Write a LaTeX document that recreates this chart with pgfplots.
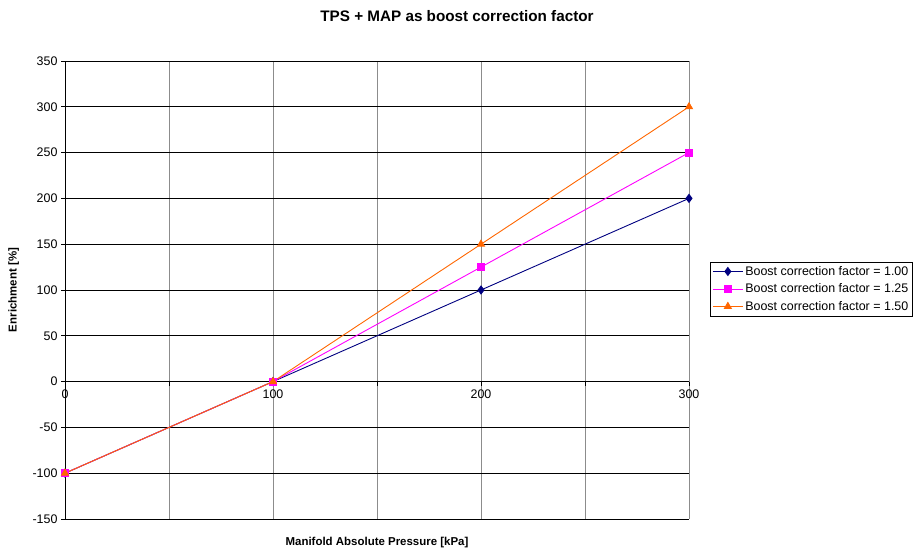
\documentclass[border=0pt]{standalone}
\usepackage{pgfplots}
\pgfplotsset{compat=1.18}
\usepackage{fontspec}
\setmainfont{Liberation Sans}
\definecolor{navyline}{RGB}{0,0,128}
\definecolor{magline}{RGB}{255,0,255}
\definecolor{orgline}{RGB}{255,102,0}
\begin{document}
\begin{tikzpicture}[x=1bp,y=1bp]
	\path[use as bounding box] (0,0) rectangle (914,548);
	\node[font=\bfseries\fontsize{15.3}{17}\selectfont] at (457,532) {TPS + MAP as boost correction factor};
	\begin{axis}[
		at={(65bp,29bp)}, anchor=south west,
		scale only axis,
		width=624bp, height=458bp,
		xmin=0, xmax=300,
		ymin=-150, ymax=350,
		axis x line=middle,
		axis y line=left,
		hide obscured x ticks=false,
		axis line style={-, black, line width=0.8pt},
		xtick={0,50,...,300},
		xticklabels={0,,100,,200,,300},
		ytick={-150,-100,...,350},
		x tick label style={yshift=-1bp},
		tick style={black, line width=0.6pt},
		xtick align=outside,
		ytick align=outside,
		major tick length=4bp,
		grid=major,
		x grid style={gray!90, line width=0.9pt},
		y grid style={black, line width=0.6pt},
		tick label style={font=\fontsize{12.5}{14}\selectfont},
		/pgf/number format/assume math mode=true,
		xlabel={\textbf{Manifold Absolute Pressure [kPa]}},
		ylabel={\textbf{Enrichment [\%]}},
		label style={font=\fontsize{11.5}{13}\selectfont},
		x label style={at={(axis description cs:0.5,0)}, anchor=north, yshift=-15bp},
		y label style={at={(axis description cs:-0.068,0.5)}, anchor=south},
		legend style={at={(1.034,0.561)}, anchor=north west, draw=black,
			font=\fontsize{12.5}{14}\selectfont, row sep=3pt, inner sep=2pt,
			cells={anchor=west}},
		legend cell align=left,
		legend image code/.code={\draw[mark repeat=2,mark phase=2] plot coordinates {(0bp,0bp)(15bp,0bp)(30bp,0bp)};},
		clip=false,
	]
		\addplot[navyline, line width=0.9pt, mark=diamond*, mark size=4bp, mark options={fill=navyline}]
		coordinates {(0,-100) (100,0) (200,100) (300,200)};
		\addlegendentry{Boost correction factor = 1.00}
		\addplot[magline, line width=0.9pt, mark=square*, mark size=3.5bp, mark options={fill=magline}]
		coordinates {(0,-100) (100,0) (200,125) (300,250)};
		\addlegendentry{Boost correction factor = 1.25}
		\addplot[orgline, line width=0.9pt, mark=triangle*, mark size=4bp, mark options={fill=orgline}]
		coordinates {(0,-100) (100,0) (200,150) (300,300)};
		\addlegendentry{Boost correction factor = 1.50}
	\end{axis}
\end{tikzpicture}
\end{document}
